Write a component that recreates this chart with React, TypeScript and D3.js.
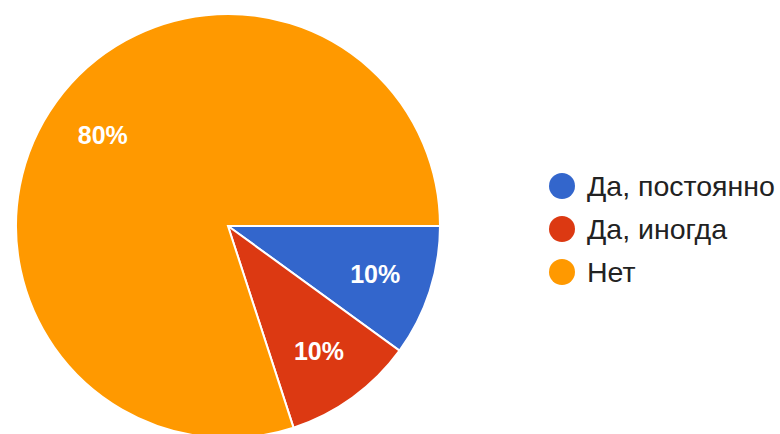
import React from "react";
import * as d3 from "d3";

const labels = ["Да, постоянно", "Да, иногда", "Нет"];
const values = [10, 10, 80];
const colors = ["#3366cc", "#dc3912", "#ff9900"];

export default function App() {
  const W = 780, H = 434;
  const cx = 228, cy = 226, r = 212;
  const pie = d3.pie<number>().sort(null).startAngle(Math.PI / 2).endAngle(Math.PI / 2 + 2 * Math.PI);
  const arcs = pie(values);
  const arc = d3.arc<d3.PieArcDatum<number>>().innerRadius(0).outerRadius(r);
  const labelArc = d3.arc<d3.PieArcDatum<number>>().innerRadius(r * 0.73).outerRadius(r * 0.73);
  const total = d3.sum(values);
  return (
    <svg width={W} height={H} style={{ position: "absolute", left: 0, top: 0, background: "#fff" }}
      fontFamily="Arial, 'Liberation Sans', sans-serif">
      <g transform={`translate(${cx},${cy})`}>
        {arcs.map((a, i) => (
          <path key={i} d={arc(a) || ""} fill={colors[i]} stroke="#fff" strokeWidth={2} />
        ))}
        {arcs.map((a, i) => {
          const [x, y] = labelArc.centroid(a);
          return (
            <text key={i} x={x} y={y} dy="0.36em" textAnchor="middle" fill="#fff" fontSize={25} fontWeight="bold">
              {Math.round((values[i] / total) * 100)}%
            </text>
          );
        })}
      </g>
      {labels.map((l, i) => (
        <g key={i} transform={`translate(562,${186 + i * 43})`}>
          <circle r={13} fill={colors[i]} />
          <text x={25} dy="0.36em" fontSize={28.5} fill="#222">{l}</text>
        </g>
      ))}
    </svg>
  );
}
